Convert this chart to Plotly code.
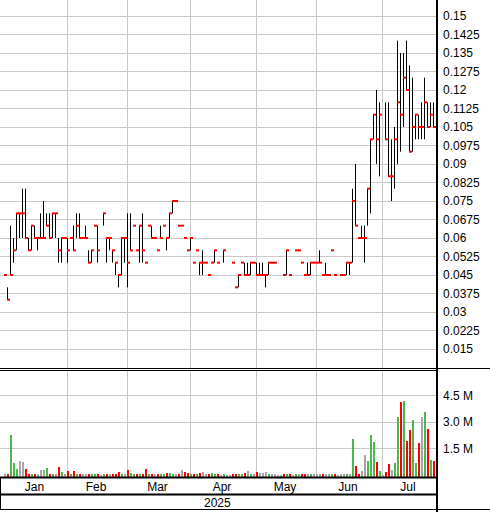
import plotly.graph_objects as go

# ---------------- data ----------------
month_labels = ["Jan", "Feb", "Mar", "Apr", "May", "Jun", "Jul"]
month_start = [0, 21, 41, 62, 84, 104, 126]   # first trading-day index of each month
year_label = "2025"

N = None
high = [0.045, 0.04, 0.065, 0.06, 0.07, 0.07, 0.08, 0.08, 0.06, 0.065,
        0.065, 0.06, 0.07, 0.075, 0.07, 0.07, 0.07, 0.07, 0.06, 0.06,
        0.06, 0.06, 0.06, 0.065, 0.07, 0.07, 0.06, 0.065, 0.055, 0.055,
        0.065, 0.065, N, 0.07, 0.06, 0.06, 0.055, 0.05, 0.045, 0.06,
        0.06, 0.07, 0.07, 0.065, 0.055, 0.065, 0.07, 0.05, 0.065, 0.065,
        0.06, 0.055, 0.065, 0.065, 0.06, 0.07, 0.075, 0.075, 0.065, 0.065,
        0.06, 0.055, 0.06, 0.05, 0.055, 0.05, 0.055, 0.05, 0.045, 0.05,
        0.055, 0.05, N, 0.055, N, N, 0.05, 0.04, 0.045, 0.05,
        0.05, 0.05, 0.05, 0.05, 0.05, 0.05, 0.05, 0.045, 0.05, 0.05,
        0.05, N, N, 0.045, 0.055, 0.045, N, 0.055, 0.055, 0.05,
        0.045, 0.05, 0.05, 0.05, 0.05, 0.055, 0.045, 0.05, 0.045, 0.055,
        0.045, N, 0.045, 0.045, 0.05, 0.05, 0.08, 0.09, 0.06, 0.065,
        0.065, 0.08, 0.10, 0.11, 0.12, 0.115, N, 0.115, 0.115, 0.10,
        0.105, 0.14, 0.135, 0.135, 0.14, 0.13, 0.125, 0.11, 0.11, 0.115,
        0.125, 0.115, 0.115, 0.115]
low = [0.045, 0.035, 0.045, 0.05, 0.055, 0.06, 0.06, 0.06, 0.055, 0.055,
       0.06, 0.055, 0.06, 0.06, 0.065, 0.06, 0.06, 0.06, 0.05, 0.05,
       0.06, 0.05, 0.06, 0.055, 0.06, 0.06, 0.06, 0.06, 0.05, 0.05,
       0.065, 0.05, N, 0.065, 0.05, 0.055, 0.05, 0.045, 0.04, 0.045,
       0.05, 0.04, 0.055, 0.065, 0.055, 0.05, 0.05, 0.05, 0.065, 0.06,
       0.06, 0.055, 0.06, 0.065, 0.055, 0.06, 0.07, 0.075, 0.065, 0.065,
       0.06, 0.055, 0.055, 0.05, 0.055, 0.045, 0.045, 0.05, 0.045, 0.05,
       0.05, 0.05, N, 0.05, N, N, 0.05, 0.04, 0.04, 0.05,
       0.045, 0.045, 0.045, 0.05, 0.045, 0.045, 0.045, 0.04, 0.045, 0.05,
       0.05, N, N, 0.045, 0.045, 0.045, N, 0.055, 0.055, 0.05,
       0.045, 0.045, 0.045, 0.05, 0.05, 0.05, 0.045, 0.045, 0.045, 0.055,
       0.045, N, 0.045, 0.045, 0.045, 0.045, 0.05, 0.065, 0.06, 0.06,
       0.05, 0.065, 0.07, 0.10, 0.09, 0.085, N, 0.10, 0.085, 0.075,
       0.08, 0.09, 0.095, 0.105, 0.12, 0.095, 0.095, 0.10, 0.10, 0.10,
       0.10, 0.105, 0.105, 0.105]
close = [0.045, 0.035, 0.045, 0.055, 0.07, 0.07, 0.07, 0.06, 0.055, 0.065,
         0.06, 0.06, 0.06, 0.06, 0.065, 0.06, 0.07, 0.07, 0.055, 0.06,
         0.06, 0.055, 0.06, 0.055, 0.065, 0.06, 0.06, 0.06, 0.05, 0.055,
         0.065, 0.055, N, 0.07, 0.06, 0.06, 0.055, 0.05, 0.045, 0.06,
         0.06, 0.05, 0.055, 0.065, 0.055, 0.065, 0.055, 0.05, 0.065, 0.06,
         0.06, 0.055, 0.06, 0.065, 0.06, 0.07, 0.075, 0.075, 0.065, 0.065,
         0.06, 0.055, 0.06, 0.05, 0.055, 0.05, 0.05, 0.05, 0.045, 0.05,
         0.055, 0.05, N, 0.055, N, N, 0.05, 0.04, 0.045, 0.05,
         0.045, 0.045, 0.05, 0.05, 0.045, 0.045, 0.045, 0.045, 0.05, 0.05,
         0.05, N, N, 0.045, 0.055, 0.045, N, 0.055, 0.055, 0.05,
         0.045, 0.045, 0.05, 0.05, 0.05, 0.05, 0.045, 0.045, 0.045, 0.055,
         0.045, N, 0.045, 0.045, 0.05, 0.05, 0.075, 0.065, 0.06, 0.06,
         0.06, 0.08, 0.10, 0.11, 0.10, 0.11, N, 0.10, 0.085, 0.085,
         0.10, 0.115, 0.11, 0.125, 0.12, 0.095, 0.105, 0.11, 0.105, 0.105,
         0.115, 0.105, 0.11, 0.105]
volume_m = [0.03, 0.05, 2.27, 0.66, 0.32, 0.77, 0.72, 0.32, 0.03, 0.02,
            0.02, 0.03, 0.26, 0.26, 0.37, 0.02, 0.05, 0.05, 0.43, 0.14,
            0.02, 0.20, 0.02, 0.20, 0.03, 0.02, 0.02, 0.03, 0.02, 0.02,
            0.02, 0.02, 0.0, 0.03, 0.03, 0.05, 0.03, 0.03, 0.14, 0.03,
            0.03, 0.26, 0.09, 0.02, 0.03, 0.02, 0.02, 0.32, 0.02, 0.02,
            0.03, 0.03, 0.03, 0.02, 0.09, 0.09, 0.03, 0.03, 0.02, 0.26,
            0.14, 0.09, 0.02, 0.02, 0.02, 0.09, 0.14, 0.03, 0.02, 0.09,
            0.02, 0.03, 0.0, 0.02, 0.0, 0.0, 0.02, 0.02, 0.02, 0.03,
            0.09, 0.20, 0.02, 0.02, 0.14, 0.09, 0.09, 0.14, 0.02, 0.02,
            0.03, 0.0, 0.0, 0.02, 0.02, 0.02, 0.0, 0.02, 0.03, 0.03,
            0.03, 0.02, 0.02, 0.03, 0.02, 0.02, 0.02, 0.02, 0.02, 0.02,
            0.02, 0.0, 0.02, 0.02, 0.02, 0.02, 2.04, 0.49, 0.03, 0.20,
            1.12, 0.77, 2.27, 1.86, 0.72, 0.20, 0.0, 0.14, 0.60, 0.26,
            0.66, 3.30, 4.16, 4.21, 1.91, 2.55, 3.13, 0.66, 1.80, 3.30,
            3.58, 2.60, 0.83, 0.77]

price_ticks = [round(0.015 + 0.0075 * k, 4) for k in range(19)]
vol_ticks_m = [1.5, 3.0, 4.5]

# ---------------- geometry helpers (pixel -> paper) ----------------
W, H = 490, 512
ML, MR, MT, MB = 0, 53, 0, 35
PW, PH = W - ML - MR, H - MT - MB


def X(px):
    return (px - ML) / PW


def Y(py):
    return (PH + MT - py) / PH


n = len(close)
GRID = "#c8c8c8"
FONT = dict(family="Liberation Sans, Arial, sans-serif", size=12, color="#000000")

# high-low lines
hx, hy = [], []
for i in range(n):
    h, l = high[i], low[i]
    if h is None or l is None or h <= l:
        continue
    hx += [i, i, None]
    hy += [l, h, None]

# close ticks (to the right of the bar)
cx, cy = [], []
for i in range(n):
    c = close[i]
    if c is None:
        continue
    cx += [i - 0.17, i + 0.83, None]
    cy += [c, c, None]

# volume colours from close-to-close change
vcol = []
prev = None
for i in range(n):
    c = close[i]
    if c is None or prev is None:
        vcol.append("#a6a6a6")
    elif c > prev + 1e-9:
        vcol.append("#4cb84c")
    elif c < prev - 1e-9:
        vcol.append("#ff0000")
    else:
        vcol.append("#a6a6a6")
    if c is not None:
        prev = c

vol = [v * 1e6 for v in volume_m]
vmin = -0.143e6

fig = go.Figure()
fig.add_trace(go.Bar(x=list(range(n)), y=[v - vmin for v in vol], base=vmin,
                     marker=dict(color=vcol, line=dict(width=0)), width=0.667,
                     xaxis="x", yaxis="y", hoverinfo="skip"))
fig.add_trace(go.Scatter(x=hx, y=hy, mode="lines", line=dict(color="#000000", width=1),
                         xaxis="x2", yaxis="y2", hoverinfo="skip"))
fig.add_trace(go.Scatter(x=cx, y=cy, mode="lines", line=dict(color="#ff0000", width=2),
                         xaxis="x2", yaxis="y2", hoverinfo="skip"))

# month label positions: middle of each month's bars
month_mid = []
for k in range(len(month_start)):
    s = month_start[k]
    e = (month_start[k + 1] - 1) if k + 1 < len(month_start) else n - 1
    month_mid.append((s + e) / 2)

# 3 px per trading day, first bar on a pixel centre
xr = [(0 - 4.5) / 3.0, (PW - 4.5) / 3.0]
minor = dict(tickmode="array", tickvals=month_start[1:], showgrid=True,
             gridcolor=GRID, gridwidth=1, ticks="")

fig.update_layout(
    width=W, height=H, margin=dict(l=ML, r=MR, t=MT, b=MB),
    paper_bgcolor="white", plot_bgcolor="white", showlegend=False,
    font=FONT, bargap=0,
    xaxis=dict(domain=[0, 1], range=xr, anchor="y", tickmode="array",
               tickvals=month_mid, ticktext=month_labels, showgrid=False,
               zeroline=False, showline=False, ticks="", ticklabelstandoff=1,
               minor=minor, tickfont=FONT),
    xaxis2=dict(domain=[0, 1], range=xr, anchor="y2", matches="x",
                showticklabels=False, showgrid=False, zeroline=False,
                showline=False, ticks="", minor=minor),
    yaxis=dict(domain=[0, Y(371)], range=[vmin, 5.925e6], side="right",
               anchor="x", tickmode="array", tickvals=[v * 1e6 for v in vol_ticks_m],
               ticktext=[f"{v:.1f} M" for v in vol_ticks_m], showgrid=True,
               gridcolor=GRID, zeroline=False, showline=False, ticks="",
               ticklabelstandoff=5, tickfont=FONT),
    yaxis2=dict(domain=[Y(368), 1],
                range=[0.15 - (368 - 16) / (18.5 / 0.0075), 0.15 + 16 / (18.5 / 0.0075)],
                side="right", anchor="x2", tickmode="array", tickvals=price_ticks,
                ticktext=[f"{v:g}" for v in price_ticks], showgrid=True,
                gridcolor=GRID, zeroline=False, showline=False, ticks="",
                ticklabelstandoff=5, tickfont=FONT),
)

shapes = [
    # double separator between panels
    dict(type="line", xref="paper", yref="paper", x0=0, x1=1, y0=Y(368.5), y1=Y(368.5), line=dict(color="#000", width=1)),
    dict(type="line", xref="paper", yref="paper", x0=0, x1=1, y0=Y(370.5), y1=Y(370.5), line=dict(color="#000", width=1)),
    dict(type="line", xref="paper", yref="paper", x0=1, x1=X(490), y0=Y(368.5), y1=Y(368.5), line=dict(color="#000", width=1)),
    # volume baseline
    dict(type="line", xref="paper", yref="paper", x0=0, x1=1, y0=Y(477.5), y1=Y(477.5), line=dict(color="#000", width=2)),
    # month / year separator
    dict(type="line", xref="paper", yref="paper", x0=0, x1=1, y0=Y(494.5), y1=Y(494.5), line=dict(color="#000", width=2)),
    # bottom line
    dict(type="line", xref="paper", yref="paper", x0=0, x1=X(490), y0=Y(509.5), y1=Y(509.5), line=dict(color="#000", width=1)),
    # left edge of label rows
    dict(type="line", xref="paper", yref="paper", x0=X(0.5), x1=X(0.5), y0=Y(477), y1=Y(510), line=dict(color="#000", width=1)),
    # right axis
    dict(type="line", xref="paper", yref="paper", x0=1, x1=1, y0=Y(512), y1=Y(0), line=dict(color="#000", width=2)),
]
fig.update_layout(shapes=shapes)

fig.add_annotation(x=X(217), y=Y(502.5), xref="paper", yref="paper", text=year_label,
                   showarrow=False, font=FONT, xanchor="center", yanchor="middle")

fig.write_html("out.html", config={"displayModeBar": False},
               post_script="document.body.style.margin='0px';document.body.style.overflow='hidden';")
